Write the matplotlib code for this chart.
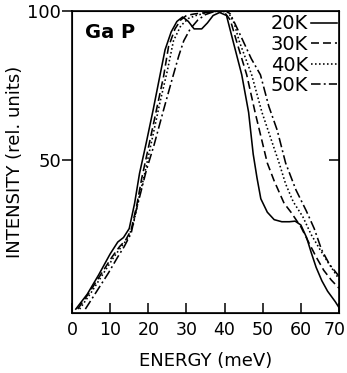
import matplotlib
matplotlib.use("Agg")
import matplotlib.pyplot as plt
from matplotlib.transforms import ScaledTranslation

# photoluminescence-like spectra of GaP at four temperatures
x_20k = [1, 4, 7, 10, 12, 13.5, 15, 16.4, 17.7, 19.5, 21.3, 23, 24.4, 26, 27.5, 29, 30.5,
         32, 34, 35.5, 37, 38.7, 40.5, 42.2, 44.5, 46.3, 47.5, 48.5, 49.5, 51.2, 53, 55,
         57, 58.5, 60, 61.5, 62.7, 64, 65.5, 67, 69, 70.5]
y_20k = [0, 5, 11.5, 18.5, 22.5, 24, 27, 35.4, 45.5, 56, 67, 78, 87, 93, 96.5, 98, 96.5,
         94, 94, 96, 98.5, 99.5, 98.5, 90, 78.6, 66, 52, 44, 37, 32.5, 30, 29.3,
         29.3, 29.5, 28.2, 24, 19, 14, 9.5, 6, 2.5, -0.5]

x_30k = [1.5, 4.5, 7.5, 10.5, 12.5, 14, 15.5, 17, 18.3, 20, 22, 24, 25.3, 27, 28.5, 30,
         32, 34, 36, 38, 40, 41.5, 43.1, 45.8, 48, 51.2, 53, 55.6, 57.4, 60, 62, 64,
         66, 68, 70]
y_30k = [0, 5.5, 11.5, 17.5, 21, 23, 26.5, 35, 44, 54, 66, 78, 88, 94, 97, 98.5,
         99, 99.3, 99.6, 100, 99.5, 97, 90, 78.6, 66, 49, 43, 35.5, 32.5, 27.6, 22.5, 17.5,
         13, 9.7, 7]

x_40k = [2, 5, 8, 11, 13, 14.5, 16, 17.5, 18.8, 21, 23, 25, 26.6, 28.5, 30.5, 32.5, 35,
         37, 39, 41, 42.5, 43.8, 47.1, 49.8, 54.3, 56, 58, 60.5, 62.7, 65, 67.2, 69, 70]
y_40k = [0, 5.5, 11.5, 17.5, 21, 23.5, 28, 37, 44, 57, 69, 80, 90, 95, 97.5, 98.5, 99.3,
         99.8, 100, 99.5, 96, 90, 78.6, 66, 49, 42, 36, 31, 25, 20, 15.5, 12, 10]

x_50k = [3.5, 6.5, 9.5, 12, 13.7, 15.5, 16.8, 18, 19.5, 21.5, 24, 26, 28, 29.3, 31, 33,
         35, 37, 39, 40.5, 41.5, 43, 44.9, 47, 49.4, 51.6, 53.8, 56, 58.7, 61.4, 63.5,
         65.4, 67.5, 70]
y_50k = [0, 6, 12, 17.5, 21, 25.4, 33, 39, 46.6, 55, 66.8, 76, 85, 90, 94, 97,
         98.8, 99.7, 100, 100, 99, 95, 89.8, 84, 78.6, 68, 60, 49, 40, 33, 27,
         20, 15, 11]

labels = ["20K", "30K", "40K", "50K"]
x_ticks = [0, 10, 20, 30, 40, 50, 60, 70]
y_ticks = [50, 100]

fig = plt.figure(figsize=(3.47, 3.73), dpi=100)
ax = fig.add_axes([0.2075, 0.161, 0.7695, 0.8095])

lw = 1.15
l1, = ax.plot(x_20k, y_20k, color="black", lw=lw, linestyle="-")
l2, = ax.plot(x_30k, y_30k, color="black", lw=lw, linestyle=(0, (5, 2.5)))
l3, = ax.plot(x_40k, y_40k, color="black", lw=lw, linestyle=(0, (1, 1.5)))
l4, = ax.plot(x_50k, y_50k, color="black", lw=lw, linestyle=(0, (6, 2, 1.2, 2)))

ax.set_xlim(0, 70)
ax.set_ylim(-1.3, 100)

ax.set_xticks(x_ticks)
ax.set_yticks(y_ticks)
ax.tick_params(axis="x", direction="in", length=7, width=1.1, labelsize=12.5, pad=6)
ax.tick_params(axis="y", direction="out", length=7, width=1.1, labelsize=13, pad=1)
for s in ax.spines.values():
    s.set_linewidth(1.2)

# keep the last x label inside the canvas
last = ax.get_xticklabels()[-1]
last.set_transform(last.get_transform() + ScaledTranslation(-3 / 72, 0, fig.dpi_scale_trans))

# inward tick at 50 on the right spine
ax2 = ax.twinx()
ax2.set_ylim(ax.get_ylim())
ax2.set_yticks([50])
ax2.tick_params(axis="y", direction="in", length=7, width=1.1, labelright=False)

ax.set_xlabel("ENERGY (meV)", fontsize=13, labelpad=9)
ax.set_ylabel("INTENSITY (rel. units)", fontsize=13, labelpad=2)

ax.text(0.05, 0.93, "Ga P", transform=ax.transAxes, fontsize=14,
        fontweight="heavy", va="center", ha="left")

ax.legend([l1, l2, l3, l4], labels, loc="upper right", bbox_to_anchor=(1.0, 0.995),
          frameon=False, markerfirst=False, fontsize=14, handlelength=1.35,
          handletextpad=0.15, labelspacing=0.08, borderaxespad=0.0, borderpad=0.1)

fig.savefig("out.png", dpi=100)
